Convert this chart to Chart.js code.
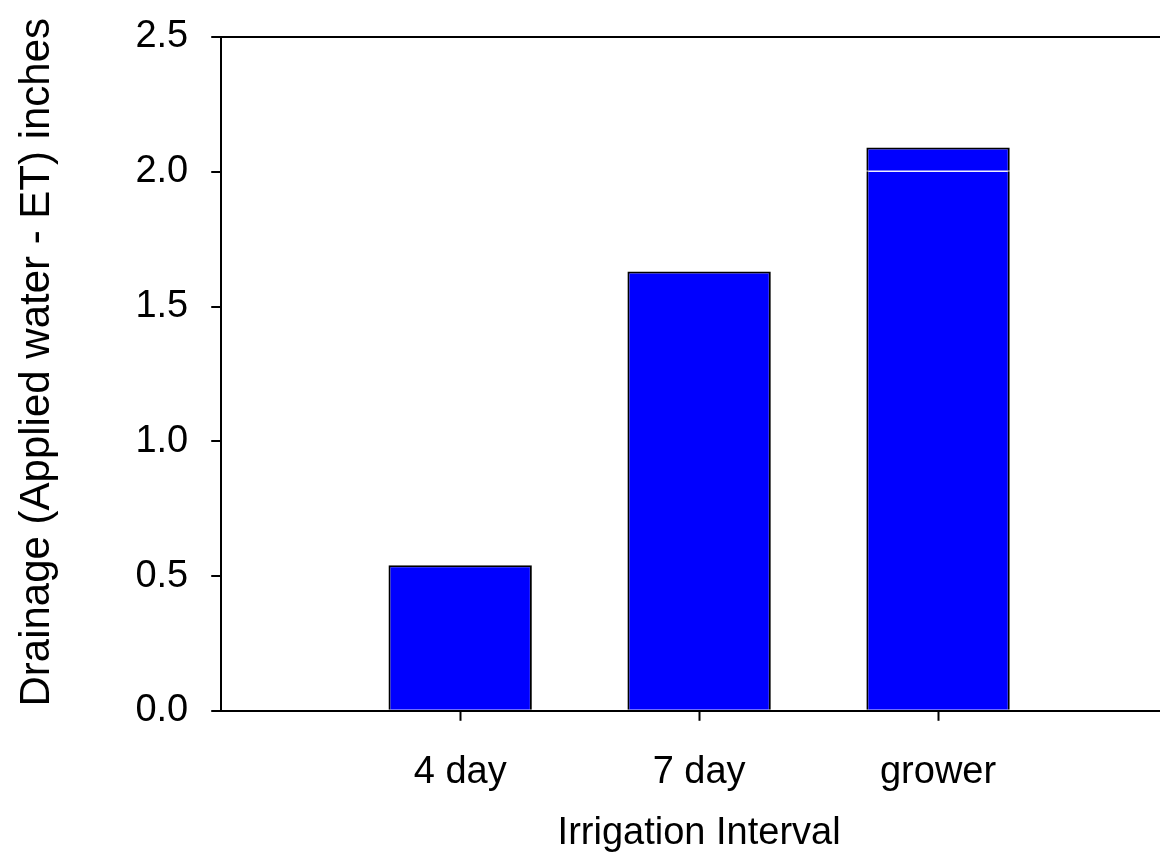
<!DOCTYPE html>
<html>
<head>
<meta charset="utf-8">
<script src="https://cdn.jsdelivr.net/npm/chart.js@4/dist/chart.umd.min.js"></script>
<style>
  html, body { margin: 0; padding: 0; background: #fff; overflow: hidden; }
  #wrap { width: 1160px; height: 861px; overflow: hidden; }
  #chart { display: block; }
</style>
</head>
<body>
<div id="wrap"><canvas id="chart" width="1206" height="861"></canvas></div>
<script>
// Data (blank categories at both ends pad the axis like the original)
const categories = ['', '4 day', '7 day', 'grower', ''];
const drainageLower = [null, 0.54, 1.63, 2.0, null];
const drainageSeam = [null, null, null, 0.004, null];
const drainageUpper = [null, null, null, 0.086, null];
const yTicks = [0, 0.5, 1.0, 1.5, 2.0, 2.5];

const FONT = 'Liberation Sans, Arial, sans-serif';
const BLUE = '#0000ff';

const ctx = document.getElementById('chart').getContext('2d');
new Chart(ctx, {
  type: 'bar',
  data: {
    labels: categories,
    datasets: [
      {
        data: drainageLower,
        backgroundColor: BLUE,
        borderColor: '#000',
        borderSkipped: false,
        borderWidth: c => ({ left: 2, right: 2, bottom: 0, top: drainageUpper[c.dataIndex] ? 0 : 2 })
      },
      {
        data: drainageSeam,
        backgroundColor: '#fff',
        borderColor: '#000',
        borderSkipped: false,
        borderWidth: { left: 2, right: 2, top: 0, bottom: 0 }
      },
      {
        data: drainageUpper,
        backgroundColor: BLUE,
        borderColor: '#000',
        borderSkipped: false,
        borderWidth: { left: 2, right: 2, top: 2, bottom: 0 }
      }
    ]
  },
  options: {
    responsive: false,
    animation: false,
    barPercentage: 0.6,
    categoryPercentage: 1.0,
    layout: { padding: { top: 0, left: 12, right: 4, bottom: 5 } },
    plugins: { legend: { display: false }, tooltip: { enabled: false } },
    scales: {
      x: {
        stacked: true,
        offset: false,
        grid: {
          offset: false,
          drawOnChartArea: false,
          tickLength: 10,
          tickWidth: 2,
          tickColor: c => categories[c.index] ? '#000' : 'rgba(0,0,0,0)'
        },
        border: { display: true, color: '#000', width: 2 },
        ticks: {
          color: '#000',
          padding: 29,
          maxRotation: 0,
          autoSkip: false,
          font: { family: FONT, size: 38 }
        },
        title: {
          display: true,
          text: 'Irrigation Interval',
          color: '#000',
          padding: { top: -14, bottom: 0 },
          font: { family: FONT, size: 38 }
        }
      },
      y: {
        stacked: true,
        min: 0,
        max: 2.5,
        afterBuildTicks: axis => { axis.ticks = yTicks.map(v => ({ value: v })); },
        afterFit: axis => { axis.paddingTop = 37; },
        grid: {
          drawOnChartArea: true,
          color: c => c.tick && c.tick.value === 2.5 ? '#000' : 'rgba(0,0,0,0)',
          lineWidth: 2,
          tickColor: '#000',
          tickLength: 10,
          tickWidth: 2
        },
        border: { display: true, color: '#000', width: 2 },
        ticks: {
          color: '#000',
          padding: 23,
          font: { family: FONT, size: 38 },
          callback: v => Number(v).toFixed(1)
        },
        title: {
          display: true,
          text: '\u00a0\u00a0Drainage (Applied water - ET) inches',
          color: '#000',
          padding: { top: 0, bottom: 50 },
          font: { family: FONT, size: 42 }
        }
      }
    }
  }
});
</script>
</body>
</html>
